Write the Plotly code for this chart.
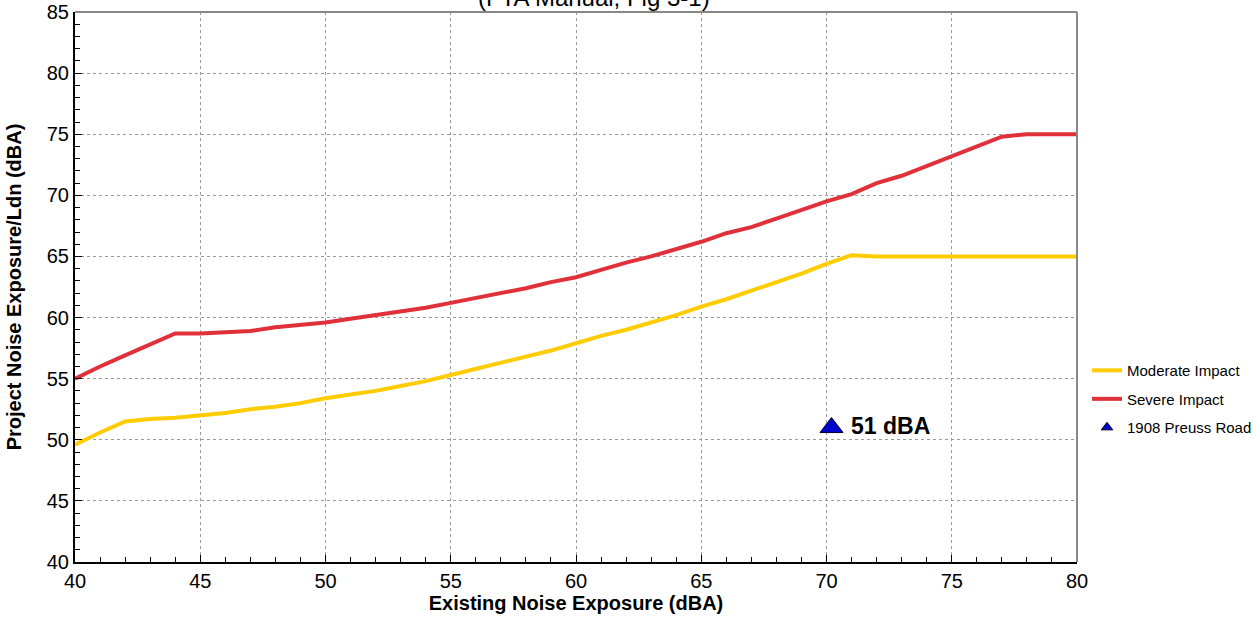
import plotly.graph_objects as go

existing = list(range(40, 81))
moderate = [49.6, 50.6, 51.5, 51.7, 51.8, 52.0, 52.2, 52.5, 52.7, 53.0,
            53.4, 53.7, 54.0, 54.4, 54.8, 55.3, 55.8, 56.3, 56.8, 57.3,
            57.9, 58.5, 59.0, 59.6, 60.2, 60.9, 61.5, 62.2, 62.9, 63.6,
            64.4, 65.1, 65.0, 65.0, 65.0, 65.0, 65.0, 65.0, 65.0, 65.0, 65.0]
severe = [55.0, 56.0, 56.9, 57.8, 58.7, 58.7, 58.8, 58.9, 59.2, 59.4,
          59.6, 59.9, 60.2, 60.5, 60.8, 61.2, 61.6, 62.0, 62.4, 62.9,
          63.3, 63.9, 64.5, 65.0, 65.6, 66.2, 66.9, 67.4, 68.1, 68.8,
          69.5, 70.1, 71.0, 71.6, 72.4, 73.2, 74.0, 74.8, 75.0, 75.0, 75.0]
site_name = "1908 Preuss Road"
site_x = [70.2]
site_y = [51]
site_label = "51 dBA"
title_text = "(FTA Manual, Fig 3-1)"

FONT = "Liberation Sans, Arial"
TRI = "#0000CC"

fig = go.Figure()
fig.add_trace(go.Scatter(x=existing, y=moderate, mode="lines", name="Moderate Impact",
                         legendgroup="a", line=dict(color="#FFCC00", width=4)))
fig.add_trace(go.Scatter(x=existing, y=severe, mode="lines", name="Severe Impact",
                         legendgroup="b", line=dict(color="#E0303A", width=4)))
fig.add_trace(go.Scatter(x=site_x, y=site_y, mode="markers", name=site_name,
                         legendgroup="c", showlegend=False,
                         marker=dict(symbol="triangle-up", size=20, color=TRI,
                                     line=dict(color="#000033", width=1))))
# legend entry with a smaller symbol
fig.add_trace(go.Scatter(x=[None], y=[None], mode="markers", name=site_name,
                         legendgroup="c",
                         marker=dict(symbol="triangle-up", size=10, color=TRI,
                                     line=dict(color="#000033", width=1))))
fig.add_annotation(x=site_x[0], y=site_y[0], text="<b>" + site_label + "</b>",
                   showarrow=False, xanchor="left", yanchor="middle", xshift=17, yshift=2,
                   font=dict(size=23, color="black", family=FONT))
fig.add_annotation(x=0.518, y=1, xref="paper", yref="paper", text=title_text,
                   showarrow=False, xanchor="center", yanchor="bottom", yshift=-1,
                   font=dict(size=24, color="black", family=FONT))

axis_common = dict(showgrid=True, gridcolor="#9a9a9a", griddash="dot", gridwidth=1,
                   zeroline=False, ticks="inside", ticklen=7, tickcolor="black",
                   tickfont=dict(size=20, color="black", family=FONT),
                   showline=True, linecolor="black", linewidth=2, automargin=False,
                   minor=dict(dtick=1, ticks="inside", ticklen=5, tickcolor="black", showgrid=False))
fig.update_xaxes(range=[40, 80], dtick=5, tick0=40, **axis_common,
                 title=dict(text="<b>Existing Noise Exposure (dBA)</b>", standoff=2,
                            font=dict(size=20, color="black", family=FONT)))
fig.update_yaxes(range=[40, 85], dtick=5, tick0=40, **axis_common,
                 title=dict(text="<b>Project Noise Exposure/Ldn (dBA)</b>", standoff=20,
                            font=dict(size=20, color="black", family=FONT)))

# gray top/right frame
fig.add_shape(type="line", xref="paper", yref="paper", x0=0, x1=1, y0=1, y1=1,
              line=dict(color="#888888", width=2))
fig.add_shape(type="line", xref="paper", yref="paper", x0=1, x1=1, y0=0, y1=1,
              line=dict(color="#888888", width=2))

fig.update_layout(width=1253, height=619, plot_bgcolor="white", paper_bgcolor="white",
                  margin=dict(l=75, r=176, t=12, b=57, autoexpand=False),
                  font=dict(family=FONT, color="black"),
                  showlegend=True,
                  legend=dict(x=1.01, y=0.378, xanchor="left", yanchor="top",
                              traceorder="grouped", tracegroupgap=6,
                              font=dict(size=15, color="black", family=FONT),
                              bgcolor="rgba(0,0,0,0)", itemwidth=30))
fig.write_html("out.html", config={"displayModeBar": False},
               post_script="document.body.style.margin='0px';")
